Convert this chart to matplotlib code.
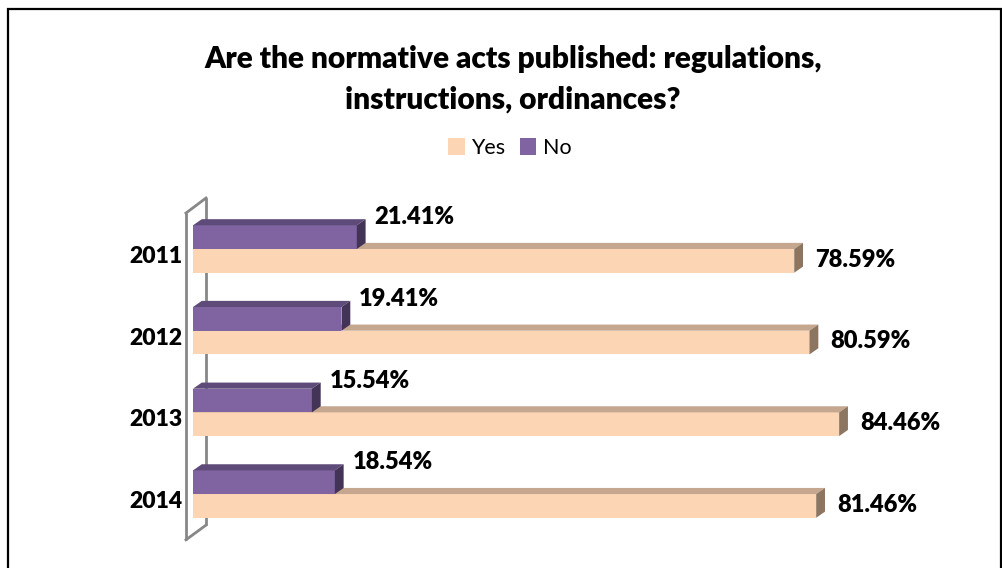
import matplotlib.pyplot as plt
from matplotlib.patches import Polygon, Rectangle, Patch

# =========================
# DATA
# =========================

years = ["2011", "2012", "2013", "2014"]
yes_values = [78.59, 80.59, 84.46, 81.46]
no_values = [21.41, 19.41, 15.54, 18.54]

title = "Are the normative acts published: regulations,\ninstructions, ordinances?"

# =========================
# STYLE
# =========================

YES_FRONT = "#FCD5B5"
YES_TOP = "#C4A78E"
YES_SIDE = "#8C7561"
NO_FRONT = "#8064A2"
NO_TOP = "#5F4B7A"
NO_SIDE = "#433356"
WALL = "#878787"

plt.rcParams["font.family"] = ["Lato", "DejaVu Sans"]

BAR_H = 0.29      # bar thickness (category units)
DX = 1.15         # 3d depth in x (percent units)
DY = 0.075        # 3d depth in y (category units)
WEIGHT = "heavy"


def bar3d(ax, y_top, value, front, top, side):
    y_bot = y_top + BAR_H
    ax.add_patch(Rectangle((0, y_top), value, BAR_H, facecolor=front,
                           edgecolor="none", zorder=3))
    ax.add_patch(Polygon([(0, y_top), (value, y_top), (value + DX, y_top - DY),
                          (DX, y_top - DY)], closed=True, facecolor=top,
                         edgecolor="none", zorder=3))
    ax.add_patch(Polygon([(value, y_top), (value + DX, y_top - DY),
                          (value + DX, y_bot - DY), (value, y_bot)], closed=True,
                         facecolor=side, edgecolor="none", zorder=3))


fig = plt.figure(figsize=(10.03, 5.68), dpi=100)
ax = fig.add_axes([0, 0, 1, 1])
ax.set_xlim(-25.23, 105.88)
ax.set_ylim(3.905, -3.048)
ax.axis("off")

# outer frame
fig.patches.append(Rectangle((8 / 1003, -0.05), 993 / 1003, 1.05 - 9 / 568,
                             transform=fig.transFigure, fill=False,
                             edgecolor="black", linewidth=1.6))

# back wall
n = len(years)
wall_x = [-0.92, 1.70]
ax.plot([wall_x[0], wall_x[0]], [-0.44, n - 0.44], color=WALL, lw=2, zorder=1,
        solid_capstyle="butt")
ax.plot([wall_x[1], wall_x[1]], [-0.624, n - 0.62], color=WALL, lw=2, zorder=1,
        solid_capstyle="butt")
ax.plot(wall_x, [-0.44, -0.624], color=WALL, lw=2, zorder=1)
ax.plot(wall_x, [n - 0.44, n - 0.62], color=WALL, lw=2, zorder=1)

# bars + labels
for i, year in enumerate(years):
    bar3d(ax, i, yes_values[i], YES_FRONT, YES_TOP, YES_SIDE)
    bar3d(ax, i - BAR_H, no_values[i], NO_FRONT, NO_TOP, NO_SIDE)

    ax.text(yes_values[i] + 2.7, i + 0.13, f"{yes_values[i]:.2f}%",
            fontsize=17, fontweight=WEIGHT, va="center", ha="left")
    ax.text(no_values[i] + 2.3, i - 0.39, f"{no_values[i]:.2f}%",
            fontsize=17, fontweight=WEIGHT, va="center", ha="left")
    ax.text(-1.4, i + 0.09, year, fontsize=16.5, fontweight=WEIGHT,
            va="center", ha="right")

# title
fig.text(513 / 1003, 1 - 79 / 568, title, ha="center", va="center",
         fontsize=21.5, fontweight=WEIGHT, linespacing=1.55)

# legend
handles = [Patch(facecolor=YES_FRONT, label="Yes"),
           Patch(facecolor=NO_FRONT, label="No")]
fig.legend(handles=handles, loc="center", bbox_to_anchor=(510 / 1003, 1 - 148 / 568),
           ncol=2, frameon=False, fontsize=15.5, handlelength=0.75, handleheight=0.8,
           handletextpad=0.3, columnspacing=0.7)

fig.savefig("out.png", dpi=100)
